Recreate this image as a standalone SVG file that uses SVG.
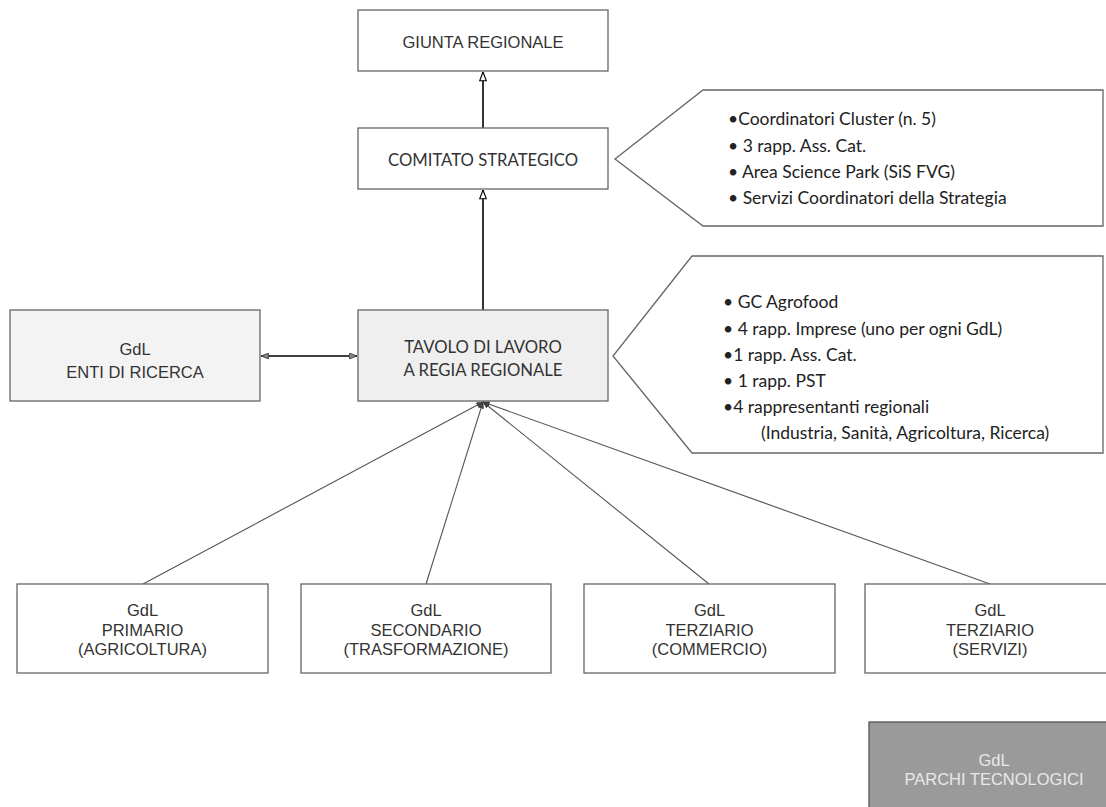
<svg xmlns="http://www.w3.org/2000/svg" width="1106" height="807" viewBox="0 0 1106 807">
  <style>
    .box { fill: #ffffff; stroke: #666666; stroke-width: 1.3; }
    .light { fill: #efefef; }
    .lighter { fill: #f3f3f3; }
    .dark { fill: #9a9a9a; stroke: #555555; }
    .sans { font-family: "Liberation Sans", Arial, sans-serif; font-size: 16.5px; fill: #333333; text-anchor: middle; }
    .hum { font-family: Lato, "Open Sans", sans-serif; font-size: 16.7px; fill: #333333; text-anchor: middle; }
    .note { font-family: Lato, "Open Sans", sans-serif; font-size: 17.5px; fill: #222222; }
    .pale { fill: #e8e8e8; }
    .callout { fill: #ffffff; stroke: #666666; stroke-width: 1.3; stroke-linejoin: miter; }
    .main { stroke: #000000; stroke-width: 1.6; fill: none; }
    .link { stroke: #555555; stroke-width: 1.1; fill: none; }
  </style>
  <defs>
    <marker id="openHead" viewBox="0 0 10 8" refX="9.5" refY="4" markerWidth="10" markerHeight="8" orient="auto" markerUnits="userSpaceOnUse">
      <path d="M0.7,0.7 L9.5,4 L0.7,7.3 Z" fill="#ffffff" stroke="#000000" stroke-width="1.1"/>
    </marker>
    <marker id="greyHead" viewBox="0 0 10 8" refX="9.5" refY="4" markerWidth="9" markerHeight="7" orient="auto-start-reverse" markerUnits="userSpaceOnUse">
      <path d="M0.7,0.7 L9.5,4 L0.7,7.3 Z" fill="#8a8a8a" stroke="#333333" stroke-width="1"/>
    </marker>
    <marker id="smallHead" viewBox="0 0 10 8" refX="9.5" refY="4" markerWidth="7" markerHeight="6" orient="auto" markerUnits="userSpaceOnUse">
      <path d="M0.5,0.5 L9.5,4 L0.5,7.5 Z" fill="#444444" stroke="#333333" stroke-width="0.8"/>
    </marker>
  </defs>

  <!-- connectors -->
  <g id="connectors">
    <line class="main" x1="483" y1="128" x2="483" y2="72" marker-end="url(#openHead)"/>
    <line class="main" x1="483" y1="310" x2="483" y2="190" marker-end="url(#openHead)"/>
    <line class="main" x1="261" y1="356" x2="357" y2="356" marker-start="url(#greyHead)" marker-end="url(#greyHead)"/>
    <line class="link" x1="143" y1="584" x2="483" y2="402" marker-end="url(#smallHead)"/>
    <line class="link" x1="426" y1="584" x2="483" y2="402" marker-end="url(#smallHead)"/>
    <line class="link" x1="709" y1="584" x2="483" y2="402" marker-end="url(#smallHead)"/>
    <line class="link" x1="990" y1="584" x2="483" y2="402" marker-end="url(#smallHead)"/>
  </g>

  <g id="giunta-regionale">
    <rect class="box" x="358" y="10" width="250" height="61"/>
    <text class="sans" x="483" y="48">GIUNTA REGIONALE</text>
  </g>

  <g id="comitato-strategico">
    <rect class="box" x="358" y="128" width="250" height="61"/>
    <text class="hum" x="483" y="166">COMITATO STRATEGICO</text>
  </g>

  <g id="comitato-members">
    <path class="callout" d="M703,90 L1103,90 L1103,226 L703,226 L615,159 Z"/>
    <text class="note" x="728" y="125">•Coordinatori Cluster (n. 5)</text>
    <text class="note" x="728" y="152">• 3 rapp. Ass. Cat.</text>
    <text class="note" x="728" y="178">• Area Science Park (SiS FVG)</text>
    <text class="note" x="728" y="204">• Servizi Coordinatori della Strategia</text>
  </g>

  <g id="enti-di-ricerca">
    <rect class="box lighter" x="10" y="310" width="250" height="91"/>
    <text class="sans" x="135" y="355">GdL</text>
    <text class="sans" x="135" y="378">ENTI DI RICERCA</text>
  </g>

  <g id="tavolo-di-lavoro">
    <rect class="box light" x="358" y="310" width="250" height="91"/>
    <text class="hum" x="483" y="353">TAVOLO DI LAVORO</text>
    <text class="hum" x="483" y="376">A REGIA REGIONALE</text>
  </g>

  <g id="tavolo-members">
    <path class="callout" d="M692,256 L1103,256 L1103,453 L692,453 L613,356 Z"/>
    <text class="note" x="723" y="308">• GC Agrofood</text>
    <text class="note" x="723" y="335">• 4 rapp. Imprese (uno per ogni GdL)</text>
    <text class="note" x="723" y="361">•1 rapp. Ass. Cat.</text>
    <text class="note" x="723" y="387">• 1 rapp. PST</text>
    <text class="note" x="723" y="413">•4 rappresentanti regionali</text>
    <text class="note" x="761" y="439">(Industria, Sanità, Agricoltura, Ricerca)</text>
  </g>

  <g id="gdl-primario">
    <rect class="box" x="17" y="584" width="251" height="89"/>
    <text class="sans" x="142.5" y="616">GdL</text>
    <text class="sans" x="142.5" y="636">PRIMARIO</text>
    <text class="sans" x="142.5" y="655">(AGRICOLTURA)</text>
  </g>

  <g id="gdl-secondario">
    <rect class="box" x="301" y="584" width="250" height="89"/>
    <text class="sans" x="426" y="616">GdL</text>
    <text class="sans" x="426" y="636">SECONDARIO</text>
    <text class="sans" x="426" y="655">(TRASFORMAZIONE)</text>
  </g>

  <g id="gdl-terziario-commercio">
    <rect class="box" x="584" y="584" width="251" height="89"/>
    <text class="sans" x="709.5" y="616">GdL</text>
    <text class="sans" x="709.5" y="636">TERZIARIO</text>
    <text class="sans" x="709.5" y="655">(COMMERCIO)</text>
  </g>

  <g id="gdl-terziario-servizi">
    <rect class="box" x="865" y="584" width="250" height="89"/>
    <text class="sans" x="990" y="616">GdL</text>
    <text class="sans" x="990" y="636">TERZIARIO</text>
    <text class="sans" x="990" y="655">(SERVIZI)</text>
  </g>

  <g id="gdl-parchi-tecnologici">
    <rect class="box dark" x="869" y="722" width="250" height="100"/>
    <text class="sans pale" x="994" y="766">GdL</text>
    <text class="sans pale" x="994" y="785">PARCHI TECNOLOGICI</text>
  </g>
</svg>
